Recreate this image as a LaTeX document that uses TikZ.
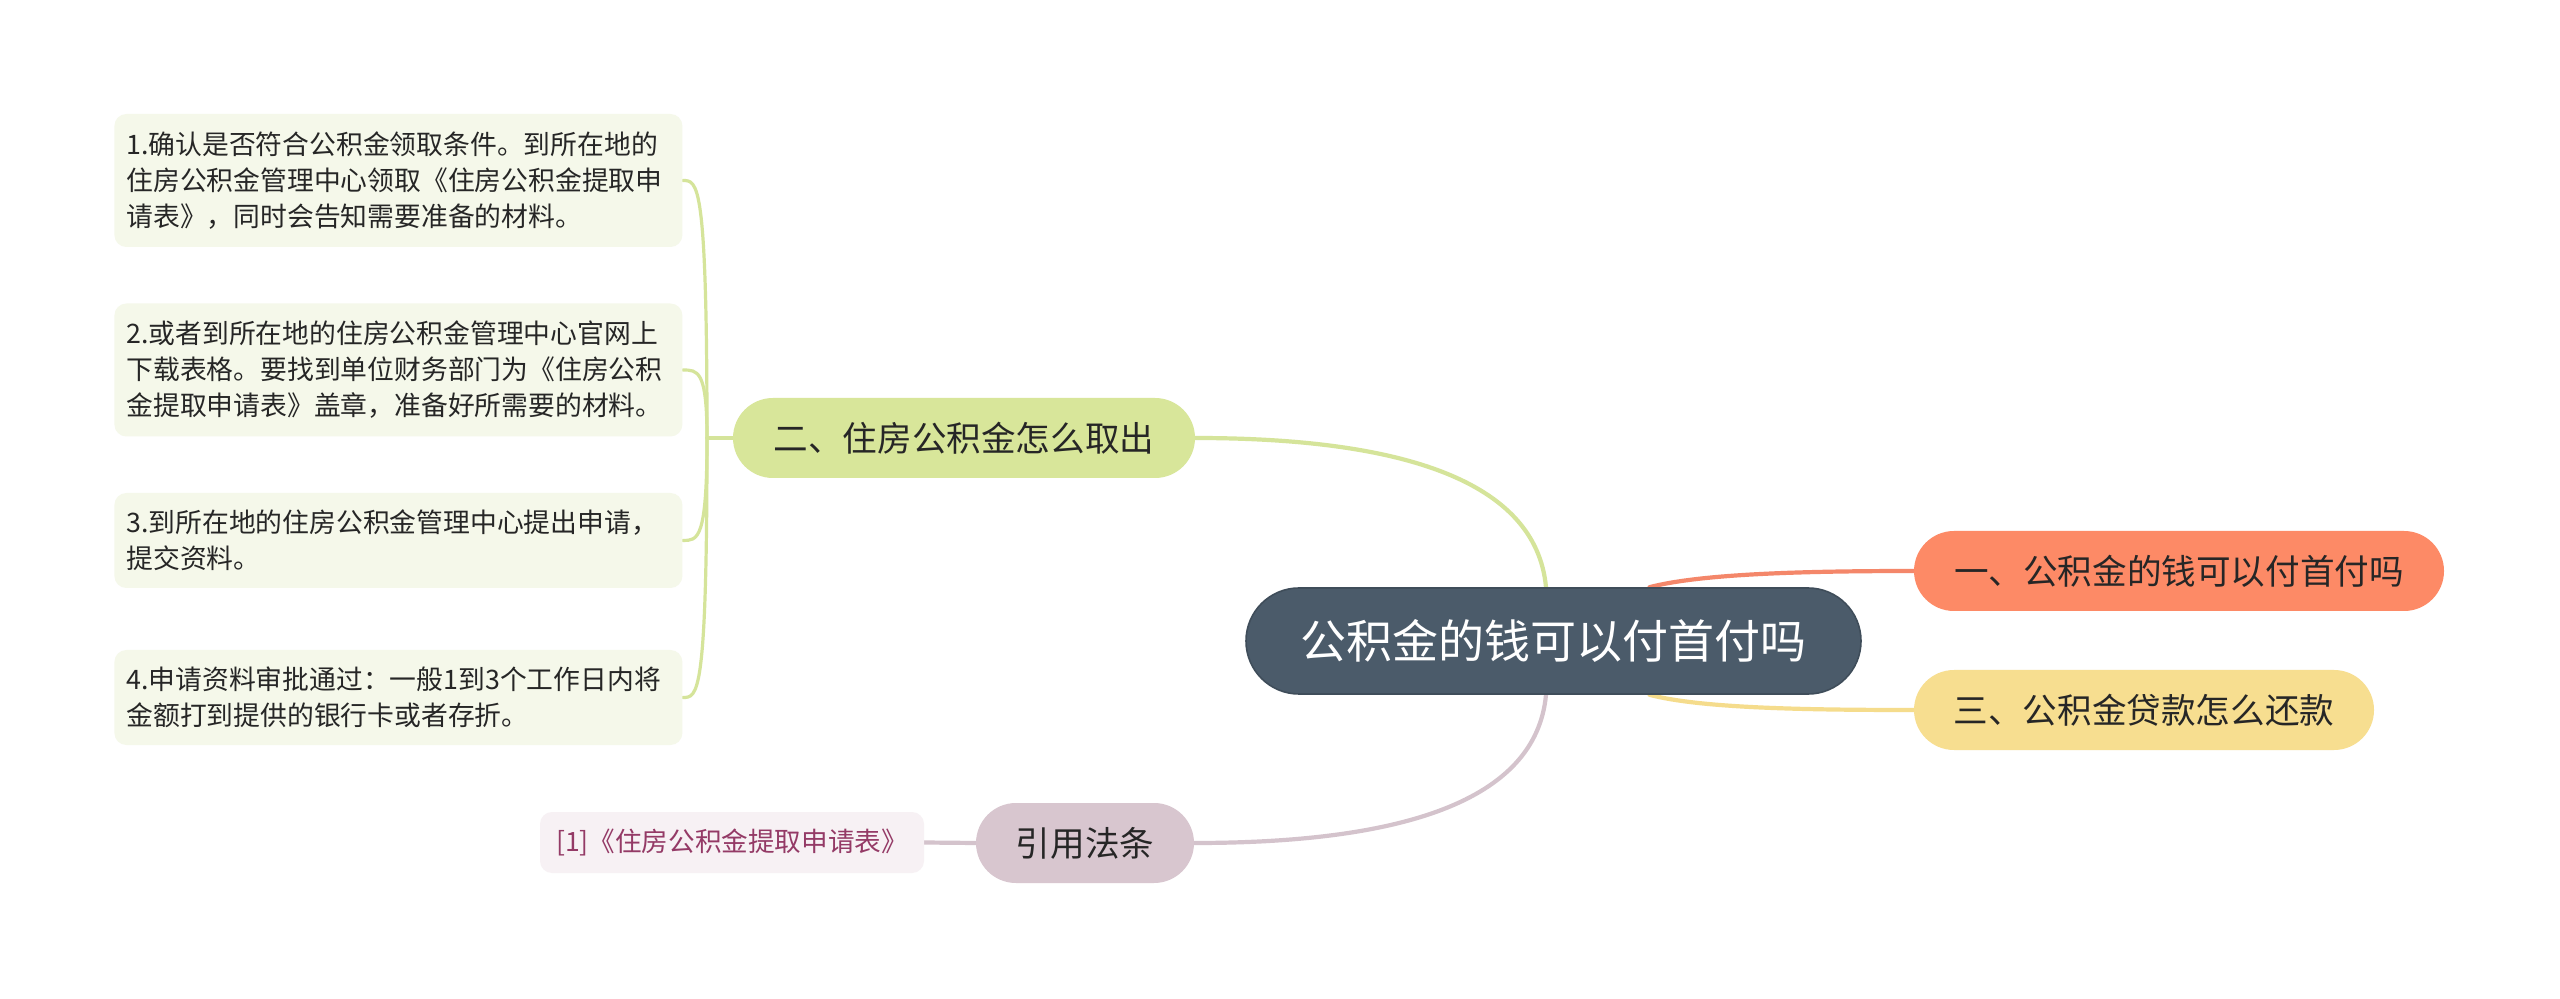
\documentclass[tikz,border=0pt]{standalone}
\usepackage{fontspec}
\setmainfont{Noto Sans CJK SC}
\usetikzlibrary{backgrounds,calc}
\pgfdeclarelayer{paper}
\pgfsetlayers{paper,background,main}
\definecolor{rootc}{HTML}{4B5B6A}
\definecolor{rootb}{HTML}{3F4D5A}
\definecolor{greenc}{HTML}{D8E69A}
\definecolor{orangec}{HTML}{FD8A66}
\definecolor{yellowc}{HTML}{F7DE90}
\definecolor{mauvec}{HTML}{D8C6CF}
\definecolor{greenl}{HTML}{D5E49A}
\definecolor{orangel}{HTML}{F4876A}
\definecolor{yellowl}{HTML}{F5DC8C}
\definecolor{mauvel}{HTML}{D4C3CC}
\definecolor{leaffill}{HTML}{F5F8EA}
\definecolor{reffill}{HTML}{F7F1F4}
\definecolor{textc}{HTML}{262626}
\definecolor{reftext}{HTML}{943A66}
\begin{document}
\begin{tikzpicture}[x=0.5pt,y=-0.5pt,
  leaf/.style={fill=leaffill, rounded corners=6pt, draw=none, text=textc,
    font=\fontsize{13.4pt}{18pt}\selectfont, align=left, text width=272pt,
    inner xsep=6pt, inner ysep=0pt, minimum width=284pt, anchor=west},
  branch/.style={rounded corners=20pt, minimum height=40pt, inner sep=0pt,
    font=\fontsize{17.3pt}{20pt}\selectfont, text=textc},
  rootnode/.style={fill=rootc, draw=rootb, line width=0.8pt, rounded corners=26.5pt,
    minimum width=307.5pt, minimum height=53pt, inner sep=0pt,
    font=\fontsize{23pt}{26pt}\selectfont, text=white},
  refbox/.style={fill=reffill, rounded corners=6pt, inner sep=0pt, text=reftext,
    font=\fontsize{13.3pt}{16pt}\selectfont},
  mainline/.style={line width=2.1pt, line cap=round},
  childline/.style={line width=1.6pt, line cap=round, draw=greenl}
]
\begin{pgfonlayer}{paper}
\fill[white] (0,0) rectangle (2560,999);
\end{pgfonlayer}
\useasboundingbox (0,0) rectangle (2560,999);

\node[leaf, minimum height=66.5pt] (b1) at (114,180.5)
  {1.确认是否符合公积金领取条件。到所在地的\\住房公积金管理中心领取《住房公积金提取申\\请表》，同时会告知需要准备的材料。};
\node[leaf, minimum height=66.5pt] (b2) at (114,370)
  {2.或者到所在地的住房公积金管理中心官网上\\下载表格。要找到单位财务部门为《住房公积\\金提取申请表》盖章，准备好所需要的材料。};
\node[leaf, minimum height=47.5pt] (b3) at (114,540.5)
  {3.到所在地的住房公积金管理中心提出申请，\\提交资料。};
\node[leaf, minimum height=47.5pt] (b4) at (114,697.5)
  {4.申请资料审批通过：一般1到3个工作日内将\\金额打到提供的银行卡或者存折。};

\node[branch, fill=greenc, minimum width=231pt] (two) at (964,438) {二、住房公积金怎么取出};
\node[branch, fill=orangec, minimum width=265pt] (one) at (2179,571) {一、公积金的钱可以付首付吗};
\node[branch, fill=yellowc, minimum width=230pt] (three) at (2144,710) {三、公积金贷款怎么还款};
\node[branch, fill=mauvec, minimum width=109pt] (cite) at (1085,843) {引用法条};
\node[refbox, minimum width=192pt, minimum height=30.5pt] (ref) at (732,842.5) {[1]《住房公积金提取申请表》};
\node[rootnode] (root) at (1553.5,641) {公积金的钱可以付首付吗};
\coordinate (trunk) at (707,438);

\begin{scope}[on background layer]
\draw[mainline, draw=greenl] ([xshift=-3.75pt]root.north) .. controls (1536,480) and (1400,438) .. (two.east);
\draw[mainline, draw=mauvel] ([xshift=-3.75pt]root.south) .. controls (1536,802) and (1400,843) .. (cite.east);
\draw[mainline, draw=orangel] ([xshift=48pt]root.north) .. controls (1700,574) and (1800,571) .. (one.west);
\draw[mainline, draw=yellowl] ([xshift=48pt]root.south) .. controls (1700,708) and (1800,710) .. (three.west);
\draw[mainline, draw=mauvel] (cite.west) -- (ref.east);
\draw[childline] (two.west) -- (trunk);
\foreach \b in {b1,b2,b3,b4}{
  \draw[childline] (trunk) .. controls (trunk |- \b.east) and ($(\b.east)+(15,0)$) .. (\b.east);
}
\end{scope}
\end{tikzpicture}
\end{document}
